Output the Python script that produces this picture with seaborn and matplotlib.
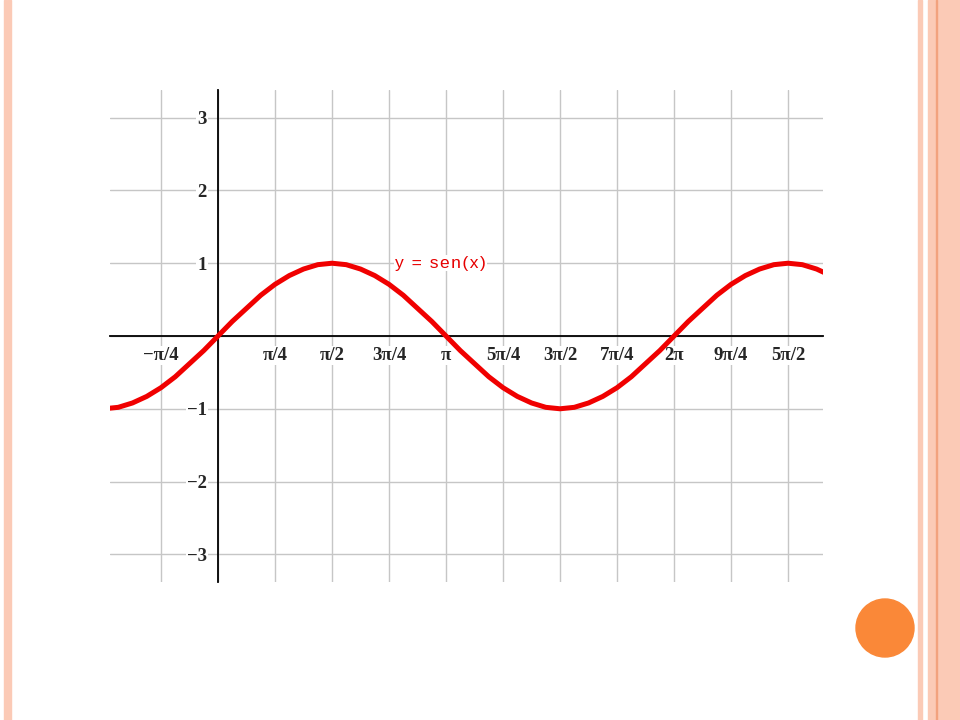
import numpy as np
import matplotlib
matplotlib.use("Agg")
import matplotlib.pyplot as plt
import matplotlib.patches as mpatches
import seaborn as sns

# curve samples, one every pi/16
x_steps = list(range(-8, 44))
y_vals = [-1.00, -0.98, -0.92, -0.83, -0.71, -0.56, -0.38, -0.20,
          0.00, 0.20, 0.38, 0.56, 0.71, 0.83, 0.92, 0.98,
          1.00, 0.98, 0.92, 0.83, 0.71, 0.56, 0.38, 0.20,
          0.00, -0.20, -0.38, -0.56, -0.71, -0.83, -0.92, -0.98,
          -1.00, -0.98, -0.92, -0.83, -0.71, -0.56, -0.38, -0.20,
          0.00, 0.20, 0.38, 0.56, 0.71, 0.83, 0.92, 0.98,
          1.00, 0.98, 0.92, 0.83]

# x ticks in quarters of pi
x_tick_quarters = [-1, 1, 2, 3, 4, 5, 6, 7, 8, 9, 10]
x_tick_labels = ["\u2212\u03c0/4", "\u03c0/4", "\u03c0/2", "3\u03c0/4", "\u03c0",
                 "5\u03c0/4", "3\u03c0/2", "7\u03c0/4", "2\u03c0", "9\u03c0/4", "5\u03c0/2"]
y_ticks = [-3, -2, -1, 1, 2, 3]
y_tick_labels = ["\u22123", "\u22122", "\u22121", "1", "2", "3"]

sns.set_style("white")
plt.rcParams['font.family'] = ['Liberation Serif', 'DejaVu Serif']

fig = plt.figure(figsize=(9.6, 7.2), dpi=100)
fig.patch.set_facecolor("white")

ax = fig.add_axes([110 / 960, 1 - 582 / 720, 713 / 960, 492 / 720])

x = np.array(x_steps) * np.pi / 16
sns.lineplot(x=x, y=y_vals, ax=ax, color="#f00000", linewidth=3.6, zorder=3,
             solid_joinstyle="round", solid_capstyle="butt")

ax.set_xlim(-1.488, 8.335)
ax.set_ylim(-3.38, 3.38)

# grid lines
for q in [-1, 0] + x_tick_quarters[1:]:
    ax.axvline(q * np.pi / 4, color="#c6c6c6", linewidth=1, zorder=0.5)
for v in [-3, -2, -1, 0, 1, 2, 3]:
    ax.axhline(v, color="#c6c6c6", linewidth=1, zorder=0.5)

# axes through the origin
for s in ["top", "right"]:
    ax.spines[s].set_visible(False)
for s in ["left", "bottom"]:
    ax.spines[s].set_position(("data", 0))
    ax.spines[s].set_color("black")
    ax.spines[s].set_linewidth(1.3)
    ax.spines[s].set_zorder(2)

label_box = dict(facecolor="white", edgecolor="none", pad=1.0)
ax.set_xticks([q * np.pi / 4 for q in x_tick_quarters])
ax.set_xticklabels(x_tick_labels, fontweight="bold", fontsize=13.5, bbox=label_box)
ax.set_yticks(y_ticks)
ax.set_yticklabels(y_tick_labels, fontweight="bold", fontsize=13.5, bbox=label_box)
ax.tick_params(axis="both", direction="inout", length=8, width=1, color="black")
ax.tick_params(axis="y", pad=4)
ax.tick_params(axis="x", pad=4)
ax.set_xlabel("")
ax.set_ylabel("")

ax.text(2.44, 1.0, "y\u200a \u200a=\u200a \u200as\u200ae\u200an\u200a(\u200ax\u200a)",
        color="#e60000", fontsize=12.5,
        family=["Liberation Sans", "DejaVu Sans"], ha="left", va="center", zorder=4,
        bbox=dict(facecolor="white", edgecolor="none", pad=0.5))

# slide decorations
pink = "#fbcab6"
fig.patches.append(mpatches.Rectangle((4 / 960, 0), 2 / 960, 1, transform=fig.transFigure,
                                      color=pink, zorder=0))
fig.patches.append(mpatches.Rectangle((7 / 960, 0), 4 / 960, 1, transform=fig.transFigure,
                                      color=pink, zorder=0))
fig.patches.append(mpatches.Rectangle((918 / 960, 0), 4 / 960, 1, transform=fig.transFigure,
                                      color=pink, zorder=0))
fig.patches.append(mpatches.Rectangle((928 / 960, 0), 32 / 960, 1, transform=fig.transFigure,
                                      color=pink, zorder=0))
fig.patches.append(mpatches.Rectangle((936 / 960, 0), 1 / 960, 1, transform=fig.transFigure,
                                      color="#f2a27e", zorder=0))
fig.patches.append(mpatches.Ellipse((885 / 960, 1 - 628 / 720), 58 / 960, 58 / 720,
                                    transform=fig.transFigure, color="#fa8838", zorder=0))

fig.savefig("out.png", dpi=100, facecolor="white")
